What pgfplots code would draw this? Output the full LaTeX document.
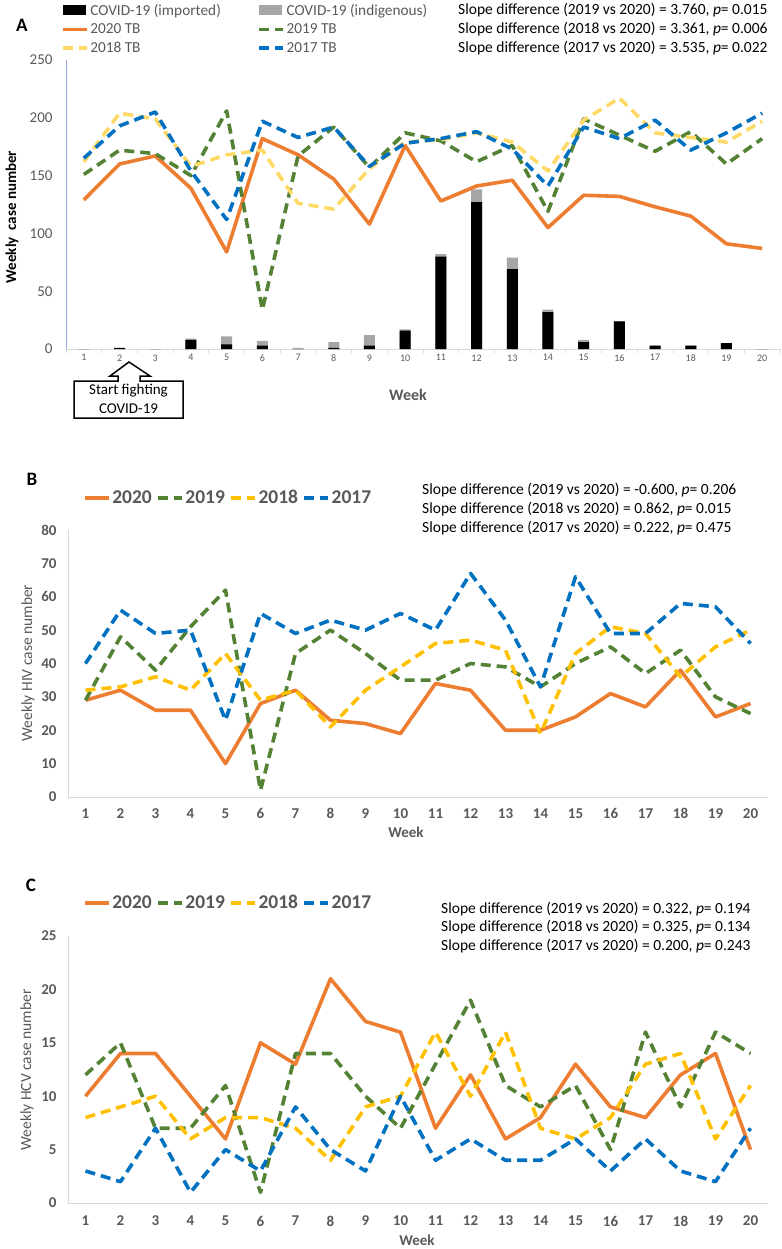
\documentclass[border=0pt]{standalone}
\usepackage{pgfplots}
\pgfplotsset{compat=1.18}
\usepackage{pgfplotstable}
\usepackage{fontspec}
\setmainfont{Carlito}
\definecolor{orA}{HTML}{ED7D31}
\definecolor{grA}{HTML}{548235}
\definecolor{ylA}{HTML}{FFD966}
\definecolor{ylB}{HTML}{FFC000}
\definecolor{blA}{HTML}{0070C0}
\definecolor{tgray}{HTML}{595959}
\definecolor{barGray}{HTML}{A6A6A6}
\definecolor{axGray}{HTML}{D9D9D9}
\definecolor{axBlue}{HTML}{8FAADC}

\pgfplotstableread{
week imported indigenous
1 0 0
2 1 0
3 0 0
4 8 1
5 4 7
6 3 4
7 0 1
8 1 5
9 3 9
10 16 1
11 80 2
12 127 11
13 69 10
14 32 2
15 6 2
16 24 0
17 3 0
18 3 0
19 5 0
20 0 0
}\covid

\pgfplotstableread{
week y2020 y2019 y2018 y2017
1 129 151 162 165
2 160 172 204 193
3 167 169 199 205
4 139 150 158 154
5 84 206 168 112
6 182 34 172 197
7 168 167 126 183
8 147 192 121 192
9 108 157 156 158
10 176 187 179 178
11 128 180 181 182
12 141 162 187 188
13 146 176 179 173
14 105 119 154 141
15 133 199 198 192
16 132 185 217 182
17 123 171 187 198
18 115 188 183 172
19 91 160 179 187
20 87 182 197 204
}\tb

\pgfplotstableread{
week y2020 y2019 y2018 y2017
1 29 29 32 40
2 32 48 33 56
3 26 38 36 49
4 26 51 32 50
5 10 62 43 23
6 28 2 29 55
7 32 43 32 49
8 23 50 21 53
9 22 43 32 50
10 19 35 39 55
11 34 35 46 50
12 32 40 47 67
13 20 39 44 53
14 20 33 19 33
15 24 40 43 66
16 31 45 51 49
17 27 37 49 49
18 38 44 36 58
19 24 30 45 57
20 28 25 50 46
}\hiv

\pgfplotstableread{
week y2020 y2019 y2018 y2017
1 10 12 8 3
2 14 15 9 2
3 14 7 10 7
4 10 7 6 1
5 6 11 8 5
6 15 1 8 3
7 13 14 7 9
8 21 14 4 5
9 17 10 9 3
10 16 7 10 10
11 7 13 16 4
12 12 19 10 6
13 6 11 16 4
14 8 9 7 4
15 13 11 6 6
16 9 5 8 3
17 8 16 13 6
18 12 9 14 3
19 14 16 6 2
20 5 14 11 7
}\hcv

\pgfplotsset{
  lineleg/.style={legend image code/.code={\draw[##1] (0pt,0pt) -- (24pt,0pt);}},
  barleg/.style={legend image code/.code={\path[##1] (0pt,-5pt) rectangle (23pt,5pt);}},
  ser/.style={line width=3.6pt, line join=round, lineleg},
  dsh/.style={dash pattern=on 10pt off 6pt},
  panel/.style={
    scale only axis, anchor=south west,
    xmin=0.5, xmax=20.5, xtick={1,...,20},
    axis lines*=left,
    /pgf/number format/assume math mode=true,
    x axis line style={draw=axGray, line width=0.8pt},
    y axis line style={draw=axGray, line width=0.8pt},
    major tick length=0pt,
  },
}

\begin{document}
\begin{tikzpicture}
\useasboundingbox (0pt,0pt) rectangle (781pt,-1249pt);

% ---------------- Panel A ----------------
\begin{axis}[panel,
  at={(66pt,-349pt)}, width=714pt, height=289pt,
  ymin=0, ymax=250, ytick={0,50,...,250},
  y axis line style={draw=axBlue, line width=0.8pt},
  minor xtick={0.5,1.5,...,20.5}, minor tick length=4pt, tick align=outside,
  minor tick style={draw=axGray, line width=0.8pt},
  xticklabel style={font=\fontsize{10}{10}\selectfont, text=tgray, yshift=-2pt},
  yticklabel style={font=\fontsize{15}{15}\selectfont, text=tgray, xshift=-10pt},
  legend columns=2,
  legend cell align=left,
  legend style={at={(-0.007,1.2)}, anchor=north west, draw=none, fill=none,
    inner sep=0pt, text=tgray, font=\fontsize{15.3}{16}\selectfont,
    nodes={inner sep=1.5pt}, row sep=4pt,
    /tikz/every even column/.append style={column sep=35pt}},
]
\addplot[ybar, bar width=11pt, bar shift=0pt, fill=barGray, draw=none, forget plot]
  table[x=week, y expr=\thisrow{imported}+\thisrow{indigenous}]{\covid};
\addplot[ybar, bar width=11pt, bar shift=0pt, fill=black, draw=none, forget plot]
  table[x=week, y=imported]{\covid};
\addlegendimage{barleg, fill=black, draw=none}
\addlegendentry{COVID-19 (imported)}
\addlegendimage{barleg, fill=barGray, draw=none}
\addlegendentry{COVID-19 (indigenous)}
\addplot[ser, orA] table[x=week, y=y2020]{\tb};
\addlegendentry{2020 TB}
\addplot[ser, dsh, grA] table[x=week, y=y2019]{\tb};
\addlegendentry{2019 TB}
\addplot[ser, dsh, ylA] table[x=week, y=y2018]{\tb};
\addlegendentry{2018 TB}
\addplot[ser, dsh, blA] table[x=week, y=y2017]{\tb};
\addlegendentry{2017 TB}
\end{axis}

% ---------------- Panel B ----------------
\begin{axis}[panel,
  at={(68pt,-797pt)}, width=700pt, height=267pt,
  ymin=0, ymax=80, ytick={0,10,...,80},
  xticklabel style={font=\bfseries\fontsize{15}{15}\selectfont, text=tgray, yshift=-8pt},
  yticklabel style={font=\bfseries\fontsize{15}{15}\selectfont, text=tgray, xshift=-8pt},
  legend columns=4,
  legend style={at={(0.0214,1.12)}, anchor=west, draw=none, fill=none,
    inner sep=0pt, text=tgray, font=\bfseries\fontsize{19.5}{20}\selectfont,
    nodes={inner sep=1.5pt},
    /tikz/every even column/.append style={column sep=3pt}},
]
\addplot[ser, orA] table[x=week, y=y2020]{\hiv};
\addlegendentry{2020}
\addplot[ser, dsh, grA] table[x=week, y=y2019]{\hiv};
\addlegendentry{2019}
\addplot[ser, dsh, ylB] table[x=week, y=y2018]{\hiv};
\addlegendentry{2018}
\addplot[ser, dsh, blA] table[x=week, y=y2017]{\hiv};
\addlegendentry{2017}
\end{axis}

% ---------------- Panel C ----------------
\begin{axis}[panel,
  at={(68pt,-1203pt)}, width=700pt, height=267pt,
  ymin=0, ymax=25, ytick={0,5,...,25},
  xticklabel style={font=\bfseries\fontsize{15}{15}\selectfont, text=tgray, yshift=-9.5pt},
  yticklabel style={font=\bfseries\fontsize{15}{15}\selectfont, text=tgray, xshift=-8pt},
  legend columns=4,
  legend style={at={(0.0214,1.1236)}, anchor=west, draw=none, fill=none,
    inner sep=0pt, text=tgray, font=\bfseries\fontsize{19.5}{20}\selectfont,
    nodes={inner sep=1.5pt},
    /tikz/every even column/.append style={column sep=3pt}},
]
\addplot[ser, orA] table[x=week, y=y2020]{\hcv};
\addlegendentry{2020}
\addplot[ser, dsh, grA] table[x=week, y=y2019]{\hcv};
\addlegendentry{2019}
\addplot[ser, dsh, ylB] table[x=week, y=y2018]{\hcv};
\addlegendentry{2018}
\addplot[ser, dsh, blA] table[x=week, y=y2017]{\hcv};
\addlegendentry{2017}
\end{axis}

% ---------------- Labels ----------------
\node[font=\bfseries\fontsize{19}{19}\selectfont] at (22pt,-25pt) {A};
\node[font=\bfseries\fontsize{19}{19}\selectfont] at (32pt,-479pt) {B};
\node[font=\bfseries\fontsize{19}{19}\selectfont] at (31pt,-885pt) {C};

\begin{scope}[every node/.style={anchor=west, inner sep=0pt, font=\fontsize{15.5}{16}\selectfont}]
\node at (458pt,-10pt) {Slope difference (2019 vs 2020) = 3.760, \textit{p}= 0.015};
\node at (458pt,-29pt) {Slope difference (2018 vs 2020) = 3.361, \textit{p}= 0.006};
\node at (458pt,-48pt) {Slope difference (2017 vs 2020) = 3.535, \textit{p}= 0.022};
\node at (422pt,-490pt) {Slope difference (2019 vs 2020) = -0.600, \textit{p}= 0.206};
\node at (422pt,-509pt) {Slope difference (2018 vs 2020) = 0.862, \textit{p}= 0.015};
\node at (422pt,-528pt) {Slope difference (2017 vs 2020) = 0.222, \textit{p}= 0.475};
\node at (441pt,-909pt) {Slope difference (2019 vs 2020) = 0.322, \textit{p}= 0.194};
\node at (441pt,-927pt) {Slope difference (2018 vs 2020) = 0.325, \textit{p}= 0.134};
\node at (441pt,-946pt) {Slope difference (2017 vs 2020) = 0.200, \textit{p}= 0.243};
\end{scope}

\node[font=\bfseries\fontsize{16}{16}\selectfont, text=tgray] at (408pt,-395pt) {Week};
\node[font=\bfseries\fontsize{15}{15}\selectfont, text=tgray] at (406pt,-832pt) {Week};
\node[font=\bfseries\fontsize{15}{15}\selectfont, text=tgray] at (417pt,-1240pt) {Week};

\node[rotate=90, font=\bfseries\fontsize{15}{15}\selectfont] at (12pt,-217pt) {Weekly\ \ case number};
\node[rotate=90, font=\fontsize{15.5}{15.5}\selectfont, text=tgray] at (28pt,-663pt) {Weekly HIV case number};
\node[rotate=90, font=\fontsize{15.5}{15.5}\selectfont, text=tgray] at (27pt,-1070pt) {Weekly HCV case number};

% annotation
\draw[line width=1.5pt, fill=white, line join=miter]
  (74pt,-381pt) -- (118pt,-381pt) -- (118pt,-376pt) -- (110pt,-376pt) -- (129pt,-362pt)
  -- (150pt,-376pt) -- (140pt,-376pt) -- (140pt,-381pt) -- (183pt,-381pt)
  -- (183pt,-418pt) -- (74pt,-418pt) -- cycle;
\node[font=\fontsize{15}{15}\selectfont] at (128.5pt,-391pt) {Start fighting};
\node[font=\fontsize{15}{15}\selectfont] at (128.5pt,-409pt) {COVID-19};
\end{tikzpicture}
\end{document}
